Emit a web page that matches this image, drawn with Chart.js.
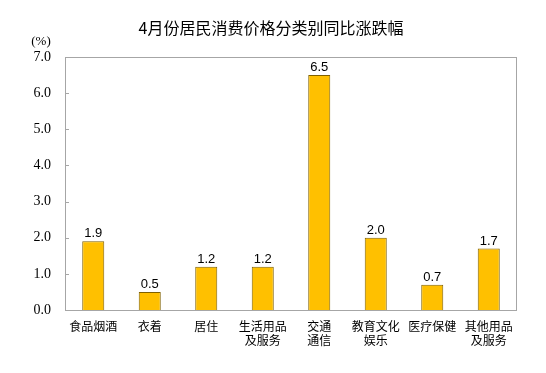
<!DOCTYPE html>
<html>
<head>
<meta charset="utf-8">
<script src="https://cdn.jsdelivr.net/npm/chart.js@4/dist/chart.umd.min.js"></script>
<style>
  html, body { margin: 0; padding: 0; background: #fff; }
  #wrap { width: 546px; height: 373px; }
</style>
</head>
<body>
<div id="wrap"><canvas id="c"></canvas></div>
<script>
const chartTitle = '4月份居民消费价格分类别同比涨跌幅';
const unitLabel = '(%)';
const categories = [
  '食品烟酒',
  '衣着',
  '居住',
  ['生活用品', '及服务'],
  ['交通', '通信'],
  ['教育文化', '娱乐'],
  '医疗保健',
  ['其他用品', '及服务']
];
const values = [1.9, 0.5, 1.2, 1.2, 6.5, 2.0, 0.7, 1.7];

const cjk = '"Noto Sans CJK SC", "Noto Sans", sans-serif';
const serif = '"Liberation Serif", "DejaVu Serif", serif';

// frame, little inner ticks, title, unit and value labels
const decor = {
  id: 'decor',
  afterDraw(chart) {
    const ctx = chart.ctx;
    const a = chart.chartArea;
    const y = chart.scales.y;
    ctx.save();
    ctx.strokeStyle = '#a6a6a6';
    ctx.lineWidth = 1;
    ctx.strokeRect(a.left + 0.5, a.top + 0.5, a.right - a.left - 1, a.bottom - a.top);
    y.ticks.forEach(t => {
      const py = Math.round(y.getPixelForValue(t.value)) + 0.5;
      ctx.beginPath();
      ctx.moveTo(a.left, py);
      ctx.lineTo(a.left + 4, py);
      ctx.stroke();
    });

    ctx.fillStyle = '#000';
    ctx.textAlign = 'center';
    ctx.textBaseline = 'middle';
    ctx.font = '16px ' + cjk;
    ctx.fillText(chartTitle, 271, 28);

    ctx.font = '13px ' + serif;
    ctx.fillText(unitLabel, 41, 42);

    ctx.font = '13px "Liberation Sans", Arial, sans-serif';
    ctx.textBaseline = 'bottom';
    const meta = chart.getDatasetMeta(0);
    meta.data.forEach((bar, i) => {
      ctx.fillText(values[i].toFixed(1), bar.x, bar.y - 1);
    });
    ctx.restore();
  }
};

new Chart(document.getElementById('c'), {
  type: 'bar',
  data: {
    labels: categories,
    datasets: [{
      data: values,
      backgroundColor: '#ffc000',
      borderColor: '#7f6000',
      borderWidth: 1,
      barPercentage: 0.78,
      categoryPercentage: 0.5
    }]
  },
  options: {
    responsive: true,
    maintainAspectRatio: false,
    animation: false,
    layout: { padding: { top: 57, right: 29, bottom: 0, left: 0 } },
    plugins: {
      legend: { display: false },
      title: { display: false },
      tooltip: { enabled: false }
    },
    scales: {
      x: {
        grid: { display: false },
        border: { display: false },
        ticks: {
          color: '#000',
          font: { family: cjk, size: 12, lineHeight: 1.2 },
          padding: 1,
          maxRotation: 0,
          autoSkip: false
        },
        afterFit(scale) { scale.height = 63; }
      },
      y: {
        min: 0,
        max: 7,
        grid: { display: false },
        border: { display: false },
        ticks: {
          stepSize: 1,
          color: '#000',
          font: { family: serif, size: 14 },
          padding: 6,
          callback: v => v.toFixed(1)
        },
        afterFit(scale) { scale.width = 65; }
      }
    }
  },
  plugins: [decor]
});
</script>
</body>
</html>
